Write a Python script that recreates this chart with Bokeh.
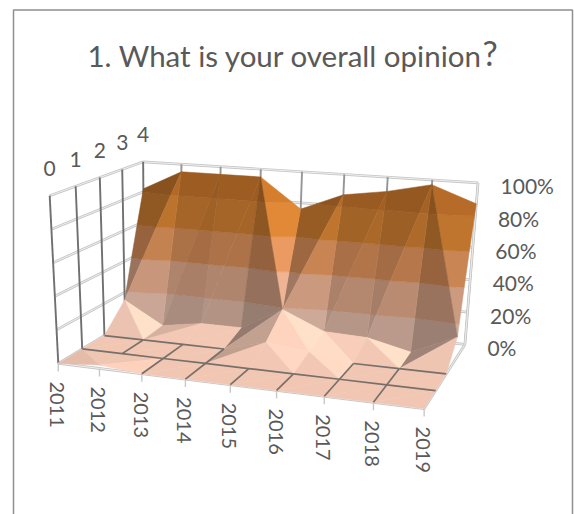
import numpy as np
from math import pi
from bokeh.plotting import figure
from bokeh.models import ColumnDataSource
from bokeh.core.properties import value
from bokeh.embed import file_html
from bokeh.resources import INLINE

years = ["2011", "2012", "2013", "2014", "2015", "2016", "2017", "2018", "2019"]
series_names = ["0", "1", "2", "3", "4"]
pct_ticks = ["0%", "20%", "40%", "60%", "80%", "100%"]
series_0 = [0, 2, 0, 0, 0, 0, 0, 0, 0]
series_1 = [0, 0, 0, 0, 0, 0, 0, 0, 0]
series_2 = [0, 0, 0, 0, 7, 4, 0, 0, 0]
series_3 = [15, 1, 5, 5, 19, 8, 7, 1, 13]
series_4 = [82, 95, 95, 95, 76, 87, 91, 97, 87]
title_text = "1. What is your overall opinion"

Z = np.array([series_0, series_1, series_2, series_3, series_4], dtype=float)
NS, NY = Z.shape

# box placement: page-pixel positions of floor grid crossings, used to fit the camera
floor_fit = [
 (0,0,56,363),(1,0,98,368),(2,0,141,373),(3,0,185,378),(4,0,230,384),(5,0,276,390),(6,0,324,397),(7,0,373,402),(8,0,423,408),
 (0,1,82,348),(1,1,123,352),(2,1,163,358),(3,1,207,363),(4,1,248,369),(5,1,293,374),(6,1,338,380),(7,1,387,385),(8,1,435,390),
 (0,2,105,335),(1,2,143,339),(2,2,183,343),(3,2,225,348),(6,2,350,362),(7,2,398,368),(8,2,447,373),
 (0,4,142,313),(8,4,465,343)]
top_fit = [(0,0,48,193),(8,0,432,226),(0,4,142,163),(8,4,475,182),(1,4,183,165),(7,4,433,177)]

A, b = [], []
for (x, y, u, v) in floor_fit:
    A.append([x, y, 1, 0, 0, 0, -u*x, -u*y]); b.append(u)
    A.append([0, 0, 0, x, y, 1, -v*x, -v*y]); b.append(v)
h = np.linalg.lstsq(np.array(A, float), np.array(b, float), rcond=None)[0]
H0 = np.append(h, 1).reshape(3, 3)

def w_of(x, y):
    return H0[2] @ np.array([x, y, 1.0])

A = np.array([[x/w_of(x,y), y/w_of(x,y), 1/w_of(x,y)] for x, y, _, _ in top_fit])
cu = np.linalg.lstsq(A, np.array([t[2] for t in top_fit], float), rcond=None)[0]
cv = np.linalg.lstsq(A, np.array([t[3] for t in top_fit], float), rcond=None)[0]
H1 = np.vstack([cu, cv, H0[2]])

def apply(H, i, s):
    q = H @ np.array([i, s, 1.0])
    return q[:2] / q[2]

def proj(i, s, z):
    return (1 - z/100.0) * apply(H0, i, s) + (z/100.0) * apply(H1, i, s)

band_rgb = [(242, 200, 180), (240, 181, 148), (236, 156, 98), (226, 138, 55), (214, 127, 47)]
L = np.array([0.8, -0.1, 0.6]); L = L/np.linalg.norm(L)

def box(v):
    return np.array([v[0]/8*1.7, v[1]/4*1.0, v[2]/100*0.9])

tris = []
for s in range(NS-1):
    for i in range(NY-1):
        a = (i, s, Z[s, i]); b = (i+1, s, Z[s, i+1])
        c = (i+1, s+1, Z[s+1, i+1]); d = (i, s+1, Z[s+1, i])
        q = [a, b, c, d]
        m = int(np.argmax([v[2] for v in q]))
        if m in (0, 2):
            tris += [(a, b, c), (a, c, d)]
        else:
            tris += [(a, b, d), (b, c, d)]

cam = np.array([0.85, -2.0, 0.8])
tris.sort(key=lambda t: -np.linalg.norm(np.mean([box(v) for v in t], axis=0) - cam))

def clip(poly, lo, hi):
    for lim, sign in ((lo, 1), (hi, -1)):
        out = []
        for k in range(len(poly)):
            p0, p1 = poly[k], poly[(k+1) % len(poly)]
            d0, d1 = sign*(p0[2]-lim), sign*(p1[2]-lim)
            if d0 >= 0:
                out.append(p0)
            if d0*d1 < 0:
                t = d0/(d0-d1)
                out.append(tuple(p0[j]+t*(p1[j]-p0[j]) for j in range(3)))
        poly = out
        if not poly:
            return []
    return poly

xs, ys, cols = [], [], []
for t in tris:
    A_, B_, C_ = [box(v) for v in t]
    n = np.cross(B_-A_, C_-A_); n = n/np.linalg.norm(n)
    if n[2] < 0:
        n = -n
    f = float(np.clip(0.52 + 0.8*(n @ L), 0.6, 1.12))
    for k in range(5):
        poly = clip(list(t), k*20, (k+1)*20 if k < 4 else 101)
        if len(poly) < 3:
            continue
        pts = np.array([proj(*v) for v in poly])
        xs.append(pts[:, 0].tolist()); ys.append(pts[:, 1].tolist())
        r, g, b_ = [min(255, int(c*f)) for c in band_rgb[k]]
        cols.append(f"#{r:02x}{g:02x}{b_:02x}")

p = figure(width=574, height=514, x_range=(0, 574), y_range=(514, 0),
           output_backend="svg", toolbar_location=None, min_border=0,
           outline_line_color=None, background_fill_color="white")
p.axis.visible = False
p.grid.visible = False

def seg(P, Q, color, w):
    p.line([P[0], Q[0]], [P[1], Q[1]], line_color=color, line_width=w)

def double(P, Q, w=2.7):
    seg(P, Q, "#c6c6c6", w)
    seg(P, Q, "#f0f0f0", w*0.35)

p.line([13, 13, 572, 572], [514, 9.5, 9.5, 514], line_color="#8f8f8f", line_width=1.5)

for z in range(0, 101, 20):
    double(proj(0, 0, z), proj(0, NS-1, z))
    double(proj(0, NS-1, z), proj(NY-1, NS-1, z))
for s in range(NS):
    seg(proj(0, s, 0), proj(0, s, 100), "#707070", 1.9)
for i in range(1, NY):
    seg(proj(i, NS-1, 0), proj(i, NS-1, 100), "#969696", 1.9)
double(proj(NY-1, NS-1, 0), proj(NY-1, NS-1, 100))
double(proj(NY-1, 0, 0), proj(NY-1, NS-1, 0))
double(proj(0, 0, 0), proj(NY-1, 0, 0))
for i in range(NY):
    P = proj(i, 0, 0)
    seg(P, (P[0], P[1]+8), "#c8c8c8", 1.4)

src_s = ColumnDataSource(dict(xs=xs, ys=ys, c=cols))
p.patches("xs", "ys", source=src_s, fill_color="c", line_color="c", line_width=0.5)

for s in range(1, NS):
    for i in range(NY-1):
        if Z[s, i] == 0 and Z[s, i+1] == 0:
            seg(proj(i, s, 0), proj(i+1, s, 0), "#77706a", 1.7)
for i in range(1, NY-1):
    for s in range(NS-1):
        if Z[s, i] == 0 and Z[s+1, i] == 0:
            seg(proj(i, s, 0), proj(i, s+1, 0), "#77706a", 1.7)

GREY = "#595959"
FONT = value("Lato")
lx = [proj(NY-1, NS-1, k*20)[0]+22.5 for k in range(6)]
ly = [proj(NY-1, NS-1, k*20)[1]+3 for k in range(6)]
p.text(lx, ly, text=pct_ticks, text_font=FONT, text_font_size="21px", text_color=GREY,
       text_align="left", text_baseline="middle")
sx = [proj(0, s, 100)[0] for s in range(NS)]
sy = [proj(0, s, 100)[1]-27 for s in range(NS)]
p.text(sx, sy, text=series_names, text_font=FONT, text_font_size="21px", text_color=GREY,
       text_align="center", text_baseline="middle")
yx = [proj(i, 0, 0)[0]-1 for i in range(NY)]
yy = [proj(i, 0, 0)[1]+18 for i in range(NY)]
p.text(yx, yy, text=years, angle=-pi/2, text_font=FONT, text_font_size="20px", text_color=GREY,
       text_align="left", text_baseline="middle")
p.text([87], [55], text=[title_text], text_font=FONT, text_font_size="29.5px", text_color=GREY,
       text_align="left", text_baseline="middle")
p.text([482], [52], text=["?"], text_font=FONT, text_font_size="34px", text_color=GREY,
       text_align="left", text_baseline="middle")

open("out.html", "w").write(file_html(p, INLINE))
